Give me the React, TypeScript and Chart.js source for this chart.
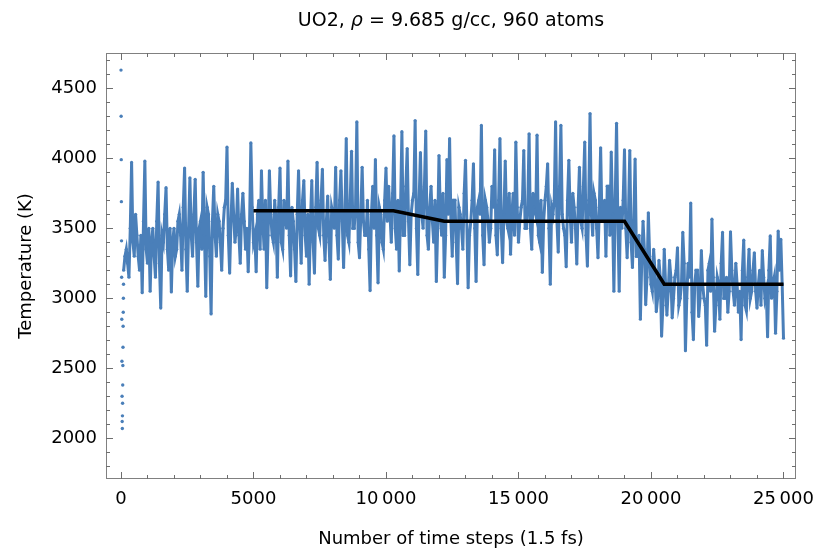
import React, { useEffect, useRef } from 'react';
import { Chart, registerables } from 'chart.js';

Chart.register(...registerables);

// ---- text ----
const titleParts = [
  { text: 'UO2, ', italic: false },
  { text: 'ρ', italic: true },
  { text: ' = 9.685 g/cc, 960 atoms', italic: false },
];
const xAxisTitle = 'Number of time steps (1.5 fs)';
const yAxisTitle = 'Temperature (K)';

// ---- axes ----
const xTicks = [0, 5000, 10000, 15000, 20000, 25000];
const yTicks = [2000, 2500, 3000, 3500, 4000, 4500];
const xMinorStep = 1000;
const yMinorStep = 100;
const xMin = -566;
const xMax = 25472;
const yMin = 1709;
const yMax = 4752;

// ---- data: start-up transient (time step, temperature) ----
const initSteps = [0, 5, 10, 15, 20, 25, 30, 35, 40, 45, 50, 55, 60, 65, 70, 75, 80, 85, 90, 95];
const initTemps = [4630, 4300, 3990, 3690, 3410, 3150, 2850, 2550, 2300, 2120, 2070, 2160, 2250, 2380, 2520, 2650, 2800, 2900, 3000, 3100];

// ---- data: samples at steps 100, 200, 300, ... ----
const sampleStart = 100;
const sampleEvery = 100;
const tempsA = [ // 100 – 4700
  3200, 3350, 3150, 3970, 3300, 3450, 3200, 3040, 3980, 3250,
  3050, 3500, 3150, 3830, 2930, 3400, 3790, 3200, 3045, 3500,
  3350, 3600, 3200, 3930, 3050, 3860, 3300, 3850, 3086, 3550,
  3900, 3014, 3600, 2888, 3800, 3300, 3550, 3200, 3650, 4080,
  3180, 3820, 3400, 3780, 3250, 3750, 3350,
];
const tempsB = [ // 4800 – 10000
  3190, 4110, 3400, 3190, 3700, 3910, 3350, 3075, 3910, 3450,
  3700, 3150, 3930, 3350, 3600, 3980, 3160, 3550, 3120, 3910,
  3250, 3840, 3300, 3100, 3840, 3180, 3970, 3450, 3920, 3270,
  3730, 3135, 3600, 3935, 3280, 3910, 3220, 4140, 3400, 4050,
  3500, 4260, 3290, 3935, 3450, 3700, 3055, 3800, 3990, 3110,
  3600, 3350, 3930,
];
const tempsC = [ // 10100 – 15200
  3800, 3400, 4160, 3350, 3195, 4190, 3450, 4070, 3240, 3700,
  4270, 3170, 4040, 3500, 4195, 3350, 3800, 3400, 3120, 4020,
  3450, 3150, 3990, 4140, 3300, 3700, 3105, 3600, 3350, 3985,
  3075, 3550, 3960, 3120, 3700, 4235, 3240, 3650, 3400, 3800,
  4060, 3310, 4140, 3255, 3980, 3500, 3315, 3750, 4115, 3400,
  3650, 4055,
];
const tempsD = [ // 15300 – 20500
  3500, 4175, 3350, 3650, 4165, 3400, 3185, 3700, 3960, 3100,
  3600, 4260, 3330, 4235, 3500, 3225, 3985, 3400, 3650, 3245,
  3935, 3500, 4115, 3230, 4320, 3450, 3700, 3290, 4075, 3550,
  3300, 3800, 4045, 3050, 4250, 3050, 3500, 4060, 3290, 4055,
  3220, 3995, 3300, 2850, 3550, 2955, 3610, 3100, 3350, 2905,
  3270, 2730, 3350,
];
const tempsE = [ // 20600 – 25000
  2880, 3270, 2860, 3150, 3360, 3000, 3470, 2625, 3250, 3680,
  2705, 3200, 2870, 3340, 3000, 2665, 3250, 3565, 2765, 3150,
  2850, 3470, 3000, 2900, 3475, 3050, 3250, 2900, 2705, 3415,
  2910, 3350, 3050, 3325, 2930, 3200, 3340, 3000, 2725, 3445,
  3100, 2750, 3480, 3420, 2715,
];

// ---- data: samples at steps 150, 250, 350, ... ----
const halfStart = 150;
const halfTempsA = [ // 150 – 4750
  3300, 3250, 3500, 3400, 3600, 3300, 3450, 3550, 3350, 3500,
  3400, 3300, 3550, 3250, 3450, 3600, 3350, 3500, 3400, 3300,
  3550, 3450, 3650, 3350, 3500, 3450, 3600, 3400, 3500, 3350,
  3450, 3650, 3300, 3550, 3450, 3600, 3400, 3500, 3700, 3450,
  3550, 3600, 3500, 3450, 3600, 3550, 3500,
];
const halfTempsB = [ // 4850 – 10050
  3500, 3650, 3450, 3600, 3350, 3550, 3700, 3450, 3600, 3400,
  3550, 3650, 3400, 3700, 3500, 3450, 3650, 3350, 3600, 3500,
  3700, 3450, 3600, 3550, 3400, 3650, 3500, 3700, 3450, 3550,
  3400, 3650, 3500, 3450, 3700, 3550, 3600, 3450, 3700, 3500,
  3650, 3400, 3600, 3550, 3450, 3350, 3600, 3500, 3450, 3650,
  3400, 3700, 3550,
];
const halfTempsC = [ // 10150 – 15250
  3600, 3750, 3500, 3700, 3650, 3450, 3800, 3550, 3600, 3750,
  3500, 3700, 3600, 3800, 3450, 3650, 3550, 3700, 3500, 3600,
  3750, 3450, 3600, 3550, 3700, 3400, 3650, 3500, 3750, 3550,
  3450, 3700, 3500, 3650, 3600, 3450, 3700, 3550, 3500, 3650,
  3450, 3700, 3500, 3600, 3550, 3750, 3600, 3450, 3650, 3550,
  3700, 3500,
];
const halfTempsD = [ // 15350 – 20550
  3650, 3500, 3750, 3600, 3450, 3700, 3550, 3800, 3500, 3650,
  3700, 3550, 3800, 3600, 3450, 3700, 3600, 3750, 3500, 3650,
  3550, 3800, 3450, 3700, 3600, 3750, 3500, 3650, 3550, 3700,
  3800, 3450, 3600, 3700, 3550, 3650, 3700,
  3500, 3600, 3400, 3550, 3300, 3450, 3250, 3350, 3150, 3300,
  3050, 3200, 3000, 3150, 2950, 3100,
];
const halfTempsE = [ // 20650 – 24950
  3050, 3150, 3000, 3200, 2950, 3100, 3250, 3000, 3150, 2900,
  3100, 3200, 3000, 3100, 2950, 3200, 3050, 3150, 2950, 3100,
  3250, 3000, 3150, 3050, 3200, 2950, 3100, 3050, 3200, 2950,
  3150, 3000, 3200, 3050, 3100, 2950, 3150, 3050, 3200, 3000,
  3150, 3050, 3200, 3100,
];

// ---- data: target temperature schedule ----
const targetSteps = [5000, 10280, 12200, 19000, 20500, 25000];
const targetTemps = [3625, 3625, 3550, 3550, 3100, 3100];

const FONT = "'DejaVu Sans', 'Liberation Sans', sans-serif";
const BLUE = '#4a7fb9';

const fmtTick = (v: number) =>
  v >= 10000 ? String(v).replace(/\B(?=(\d{3})+(?!\d))/g, '\u2009') : String(v);

const framePlugin = {
  id: 'mmaFrame',
  afterDraw(chart: any) {
    const { ctx, chartArea: a, scales } = chart;
    const xs = scales.x;
    const ys = scales.y;
    ctx.save();
    ctx.strokeStyle = '#808080';
    ctx.lineWidth = 1;
    ctx.strokeRect(Math.round(a.left) + 0.5, Math.round(a.top) + 0.5,
      Math.round(a.right - a.left) - 1, Math.round(a.bottom - a.top) - 1);
    ctx.beginPath();
    for (let v = Math.ceil(xMin / xMinorStep) * xMinorStep; v <= xMax; v += xMinorStep) {
      const len = v % 5000 === 0 ? 7 : 4;
      const px = Math.round(xs.getPixelForValue(v)) + 0.5;
      ctx.moveTo(px, a.bottom);
      ctx.lineTo(px, a.bottom - len);
      ctx.moveTo(px, a.top);
      ctx.lineTo(px, a.top + len);
    }
    for (let v = Math.ceil(yMin / yMinorStep) * yMinorStep; v <= yMax; v += yMinorStep) {
      const len = v % 500 === 0 ? 7 : 4;
      const py = Math.round(ys.getPixelForValue(v)) + 0.5;
      ctx.moveTo(a.left, py);
      ctx.lineTo(a.left + len, py);
      ctx.moveTo(a.right, py);
      ctx.lineTo(a.right - len, py);
    }
    ctx.strokeStyle = '#6e6e6e';
    ctx.stroke();

    // title with italic rho
    ctx.fillStyle = '#000';
    ctx.textBaseline = 'middle';
    ctx.textAlign = 'left';
    const size = 19;
    const fonts = titleParts.map((p) => `${p.italic ? 'italic ' : ''}${size}px ${FONT}`);
    let total = 0;
    const widths = titleParts.map((p, i) => {
      ctx.font = fonts[i];
      const w = ctx.measureText(p.text).width;
      total += w;
      return w;
    });
    let x = (a.left + a.right) / 2 - total / 2;
    titleParts.forEach((p, i) => {
      ctx.font = fonts[i];
      ctx.fillText(p.text, x, 21);
      x += widths[i];
    });
    ctx.restore();
  },
};

export default function App() {
  const ref = useRef<HTMLCanvasElement | null>(null);

  useEffect(() => {
    document.body.style.margin = '0';
    const canvas = ref.current;
    if (!canvas) return;

    const whole = [...tempsA, ...tempsB, ...tempsC, ...tempsD, ...tempsE];
    const half = [...halfTempsA, ...halfTempsB, ...halfTempsC, ...halfTempsD, ...halfTempsE];
    const series = [
      ...whole.map((t, i) => ({ x: sampleStart + i * sampleEvery, y: t })),
      ...half.map((t, i) => ({ x: halfStart + i * sampleEvery, y: t })),
    ].sort((p, q) => p.x - q.x);
    const startup = initSteps.map((s, i) => ({ x: s, y: initTemps[i] }));
    const target = targetSteps.map((s, i) => ({ x: s, y: targetTemps[i] }));

    const chart = new Chart(canvas, {
      type: 'line',
      data: {
        datasets: [
          {
            data: series,
            order: 1,
            borderColor: BLUE,
            backgroundColor: BLUE,
            borderWidth: 3,
            pointRadius: 1.6,
            pointBorderWidth: 0,
            pointBackgroundColor: BLUE,
            tension: 0,
            fill: false,
          },
          {
            data: startup,
            order: 2,
            showLine: false,
            borderColor: BLUE,
            backgroundColor: BLUE,
            pointRadius: 1.7,
            pointBorderWidth: 0,
            pointBackgroundColor: BLUE,
          },
          {
            data: target,
            order: 0,
            borderColor: '#000',
            borderWidth: 3.6,
            pointRadius: 0,
            tension: 0,
            fill: false,
          },
        ],
      },
      options: {
        animation: false,
        responsive: false,
        maintainAspectRatio: false,
        devicePixelRatio: 1,
        layout: { padding: { top: 53, right: 18, left: 0, bottom: 0 } },
        plugins: { legend: { display: false }, tooltip: { enabled: false }, title: { display: false } },
        scales: {
          x: {
            type: 'linear',
            min: xMin,
            max: xMax,
            grid: { display: false, drawTicks: false },
            border: { display: false },
            afterBuildTicks: (s: any) => { s.ticks = xTicks.map((value) => ({ value })); },
            afterFit: (s: any) => { s.height = 552 - 479; s.paddingLeft = 0; s.paddingRight = 0; },
            ticks: {
              autoSkip: false,
              maxRotation: 0,
              padding: 10,
              color: '#000',
              font: { family: FONT, size: 18 },
              callback: (v: any) => fmtTick(Number(v)),
            },
            title: {
              display: true,
              text: xAxisTitle,
              color: '#000',
              font: { family: FONT, size: 18 },
              padding: { top: 0, bottom: 2 },
            },
          },
          y: {
            type: 'linear',
            min: yMin,
            max: yMax,
            grid: { display: false, drawTicks: false },
            border: { display: false },
            afterBuildTicks: (s: any) => { s.ticks = yTicks.map((value) => ({ value })); },
            afterFit: (s: any) => { s.width = 106; s.paddingTop = 0; s.paddingBottom = 0; },
            ticks: {
              autoSkip: false,
              padding: 9,
              color: '#000',
              font: { family: FONT, size: 18 },
              callback: (v: any) => String(v),
            },
            title: {
              display: true,
              text: yAxisTitle,
              color: '#000',
              font: { family: FONT, size: 18 },
              padding: { top: 16, bottom: 0 },
            },
          },
        },
      },
      plugins: [framePlugin],
    });
    return () => chart.destroy();
  }, []);

  return (
    <div style={{ width: 814, height: 552 }}>
      <canvas ref={ref} width={814} height={552} style={{ display: 'block' }} />
    </div>
  );
}
